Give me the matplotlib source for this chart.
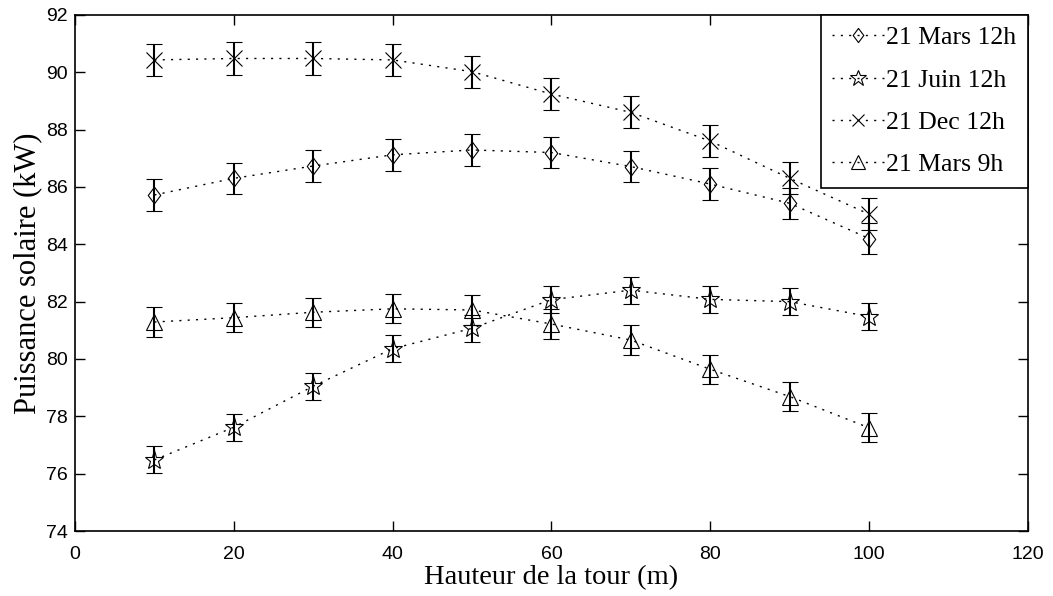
import numpy as np
import matplotlib
matplotlib.use("Agg")
import matplotlib.pyplot as plt

# données
hauteur = [10, 20, 30, 40, 50, 60, 70, 80, 90, 100]

mars_12h = [85.72, 86.30, 86.73, 87.12, 87.29, 87.20, 86.71, 86.10, 85.43, 84.20]
juin_12h = [76.48, 77.62, 79.05, 80.36, 81.07, 82.07, 82.40, 82.08, 82.00, 81.48]
dec_12h = [90.43, 90.48, 90.48, 90.43, 90.02, 89.24, 88.60, 87.60, 86.30, 85.05]
mars_9h = [81.29, 81.44, 81.63, 81.75, 81.71, 81.22, 80.66, 79.64, 78.69, 77.60]

err_mars_12h = [0.55, 0.55, 0.55, 0.55, 0.55, 0.55, 0.55, 0.55, 0.55, 0.55]
err_juin_12h = [0.47, 0.47, 0.47, 0.47, 0.47, 0.47, 0.47, 0.47, 0.47, 0.47]
err_dec_12h = [0.56, 0.56, 0.56, 0.56, 0.56, 0.56, 0.56, 0.56, 0.56, 0.56]
err_mars_9h = [0.51, 0.51, 0.51, 0.51, 0.51, 0.51, 0.51, 0.51, 0.51, 0.51]

labels = ['21 Mars 12h', '21 Juin 12h', '21 Dec 12h', '21 Mars 9h']

# losange un peu plus haut que large, comme le marqueur de MATLAB
losange = [(0, 1), (0.75, 0), (0, -1), (-0.75, 0), (0, 1)]

series = [
    (mars_12h, err_mars_12h, losange, 12),
    (juin_12h, err_juin_12h, '*', 14),
    (dec_12h, err_dec_12h, 'x', 11),
    (mars_9h, err_mars_9h, '^', 11.5),
]

fig = plt.figure(figsize=(10.53, 5.96), dpi=100)
ax = fig.add_axes([0.0712, 0.109, 0.905, 0.866])

handles = []
for (y, e, m, ms), lab in zip(series, labels):
    h = ax.errorbar(hauteur, y, yerr=e, color='black', ls=(0, (1.5, 4.5)), lw=1.0,
                    marker=m, ms=ms, mfc='none', mec='black', mew=0.8,
                    ecolor='black', elinewidth=1.5, capsize=5.8, capthick=1.5,
                    label=lab)
    handles.append(h)

ax.set_xlim(0, 120)
ax.set_ylim(74, 92)
ax.set_xticks(np.arange(0, 121, 20))
ax.set_yticks(np.arange(74, 93, 2))
ax.tick_params(direction='in', length=7, width=1.0, top=True, right=True,
               labelsize=14)
ax.tick_params(axis='x', pad=11)
ax.tick_params(axis='y', pad=5)
for lab in ax.get_xticklabels() + ax.get_yticklabels():
    lab.set_family('Liberation Sans')
for sp in ax.spines.values():
    sp.set_linewidth(1.2)

ax.set_xlabel('Hauteur de la tour (m)', family='Liberation Serif', fontsize=20.5, labelpad=1)
ax.set_ylabel('Puissance solaire (kW)', family='Liberation Serif', fontsize=22, labelpad=3)

leg = ax.legend(handles=[h[0] for h in handles], labels=labels, loc='upper right',
                borderaxespad=0, frameon=True, fancybox=False, edgecolor='black',
                framealpha=1.0,
                prop={'family': 'Liberation Serif', 'size': 18.5}, handlelength=2.0,
                handletextpad=0.1, labelspacing=0.75, borderpad=0.45, markerscale=0.85)
leg.get_frame().set_linewidth(1.2)

fig.savefig('out.png', dpi=100)
